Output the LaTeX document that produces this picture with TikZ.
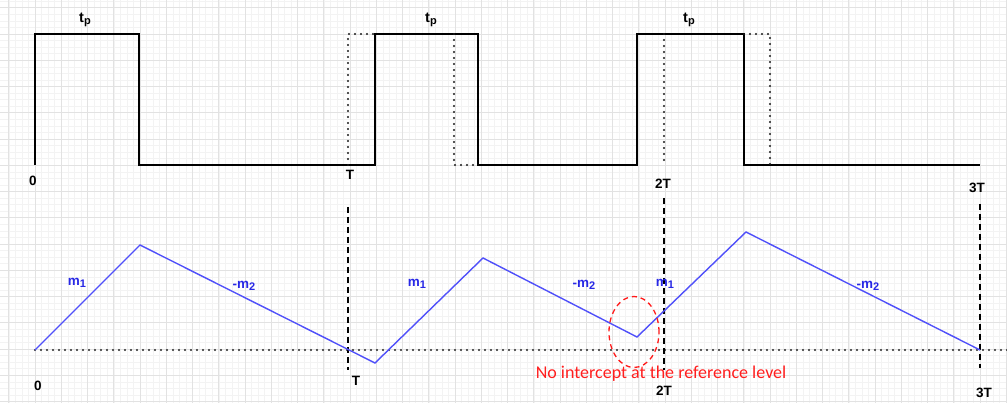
\documentclass[tikz,border=0pt]{standalone}
\usepackage{fontspec}
\usetikzlibrary{shapes.geometric}
\setmainfont{Liberation Sans}
\newfontfamily\calib{Carlito}
\definecolor{wblue}{RGB}{80,80,250}
\definecolor{lblue}{RGB}{40,40,230}
\definecolor{gmaj}{RGB}{226,226,226}
\definecolor{gmin}{RGB}{243,243,243}
\definecolor{rtxt}{RGB}{255,30,30}
\newcommand{\sbs}[1]{\raisebox{-0.35ex}{\fontsize{11}{12}\selectfont #1}}
\begin{document}
\begin{tikzpicture}[x=1pt,y=-1pt,
  pulse/.style={line width=1.8pt,black,line join=miter},
  ghost/.style={line width=2.4pt,black!90,line cap=round,dash pattern=on 0pt off 6pt},
  refline/.style={line width=2.4pt,black!85,line cap=round,dash pattern=on 0pt off 6pt},
  marker/.style={line width=1.6pt,black,dash pattern=on 6pt off 4pt},
  ramp/.style={line width=1.4pt,wblue},
  tlab/.style={font=\bfseries\fontsize{13.5}{15}\selectfont,text=black,inner sep=0pt},
  plab/.style={font=\bfseries\fontsize{14.5}{15}\selectfont,text=black,inner sep=0pt},
  mlab/.style={font=\bfseries\fontsize{13.5}{15}\selectfont,text=lblue,inner sep=0pt},
  note/.style={font=\calib\fontsize{18}{20}\selectfont,text=rtxt,inner sep=0pt},
  oval/.style={draw=red!90,line width=1.3pt,dash pattern=on 5pt off 4pt}]
\useasboundingbox (0,0) rectangle (1007,403);
\fill[white] (0,0) rectangle (1007,403);
% grid
\foreach \i in {0,...,154} \draw[gmin,line width=0.5pt] ({8.75+\i*6.5625},0) -- ++(0,403);
\foreach \i in {-1,...,61} \draw[gmin,line width=0.5pt] (0,{7.75+\i*6.5625}) -- ++(1007,0);
\foreach \i in {0,...,38} \draw[gmaj,line width=0.8pt] ({8.75+\i*26.25},0) -- ++(0,403);
\foreach \i in {0,...,15} \draw[gmaj,line width=0.8pt] (0,{7.75+\i*26.25}) -- ++(1007,0);

% pulse train coordinates
\coordinate (p0) at (35,165);
\coordinate (p1) at (35,34);
\coordinate (p2) at (139,34);
\coordinate (p3) at (139,165);
\coordinate (p4) at (375,165);
\coordinate (p5) at (375,34);
\coordinate (p6) at (478,34);
\coordinate (p7) at (478,165);
\coordinate (p8) at (637,165);
\coordinate (p9) at (637,34);
\coordinate (p10) at (744,34);
\coordinate (p11) at (744,165);
\coordinate (p12) at (980,165);
\draw[pulse] (p0) -- (p1) -- (p2) -- (p3) -- (p4) -- (p5) -- (p6) -- (p7) -- (p8) -- (p9) -- (p10) -- (p11) -- (p12);

% ideal (dotted) pulses
\coordinate (g1a) at (348,165);
\coordinate (g1b) at (348,34);
\coordinate (g1c) at (454,34);
\coordinate (g1d) at (454,165);
\coordinate (g2a) at (664,34);
\coordinate (g2b) at (664,165);
\coordinate (g3a) at (770,34);
\coordinate (g3b) at (770,165);
\draw[ghost] (g1a) -- (g1b) -- (p5);
\draw[ghost] (g1c) -- (g1d) -- (p7);
\draw[ghost] (g2a) -- (g2b);
\draw[ghost] (p10) -- (g3a) -- (g3b);

% labels top
\node[plab] (tp1) at (85,20) {t\sbs{p}};
\node[plab] (tp2) at (431,20) {t\sbs{p}};
\node[plab] (tp3) at (689,20) {t\sbs{p}};
\node[tlab] (z0) at (33,181) {0};
\node[tlab] (t1) at (350,175) {T};
\node[tlab] (t2) at (663,184) {2T};
\node[tlab] (t3) at (977,188) {3T};

% reference level
\coordinate (r0) at (35,350);
\coordinate (r1) at (1007,350);
\draw[refline] (r0) -- (r1);

% markers
\coordinate (d1a) at (348,207);
\coordinate (d1b) at (348,370);
\coordinate (d2a) at (664,198);
\coordinate (d2b) at (664,370);
\coordinate (d3a) at (980,204);
\coordinate (d3b) at (980,368);
\draw[marker] (d1a) -- (d1b);
\draw[marker] (d2a) -- (d2b);
\draw[marker] (d3a) -- (d3b);

% ramp
\coordinate (w0) at (35,350);
\coordinate (w1) at (140,245);
\coordinate (w2) at (375,363);
\coordinate (w3) at (483,258);
\coordinate (w4) at (637,337);
\coordinate (w5) at (746,232);
\coordinate (w6) at (980,350);
\draw[ramp] (w0) -- (w1) -- (w2) -- (w3) -- (w4) -- (w5) -- (w6);

\node[mlab] (m1a) at (77,283) {m\sbs{1}};
\node[mlab] (m2a) at (244,286) {-m\sbs{2}};
\node[mlab] (m1b) at (417,284) {m\sbs{1}};
\node[mlab] (m2b) at (584,285) {-m\sbs{2}};
\node[mlab] (m1c) at (665,284) {m\sbs{1}};
\node[mlab] (m2c) at (868,286) {-m\sbs{2}};

% bottom labels
\node[tlab] (b0) at (38,386) {0};
\node[tlab] (b1) at (356,381) {T};
\node[tlab] (b2) at (664,391) {2T};
\node[tlab] (b3) at (984,393) {3T};

% annotation
\node[oval,ellipse,minimum width=50pt,minimum height=71pt,inner sep=0pt] (ov) at (634,332) {};
\node[note,anchor=base] (nt) at (661,378.5) {No intercept at the reference level};
\end{tikzpicture}
\end{document}
